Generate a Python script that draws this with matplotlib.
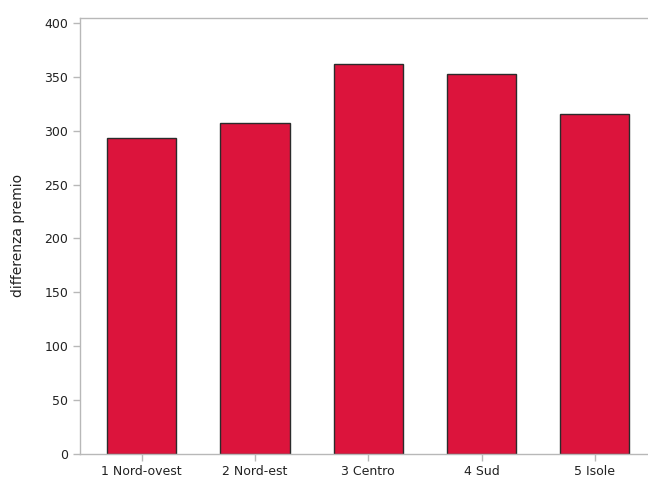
import matplotlib
matplotlib.use('Agg')
import matplotlib.pyplot as plt

# Data
regions = ['1 Nord-ovest', '2 Nord-est', '3 Centro', '4 Sud', '5 Isole']
values = [293, 307, 362, 353, 316]

fig = plt.figure(figsize=(6.48, 4.79), dpi=100)
ax = fig.add_axes([0.1235, 0.0532, 0.8765, 0.9092])

x = range(len(regions))
ax.bar(x, values, width=0.61, color='#DC143C', edgecolor='#2b2b2b', linewidth=1.0, zorder=2)

ax.set_xlim(-0.545, 4.47)
ax.set_ylim(0, 405)
ax.set_yticks(range(0, 401, 50))
ax.set_xticks(list(x))
ax.set_xticklabels(regions)
ax.set_ylabel('differenza premio', fontsize=10, color='#222222', labelpad=14)

for s in ax.spines.values():
    s.set_color('#b8b8b8')
    s.set_linewidth(1.0)
ax.spines['right'].set_visible(False)
ax.tick_params(axis='both', colors='#b8b8b8', labelcolor='#222222', labelsize=9, length=5, width=1)

fig.savefig('out.png', dpi=100)
